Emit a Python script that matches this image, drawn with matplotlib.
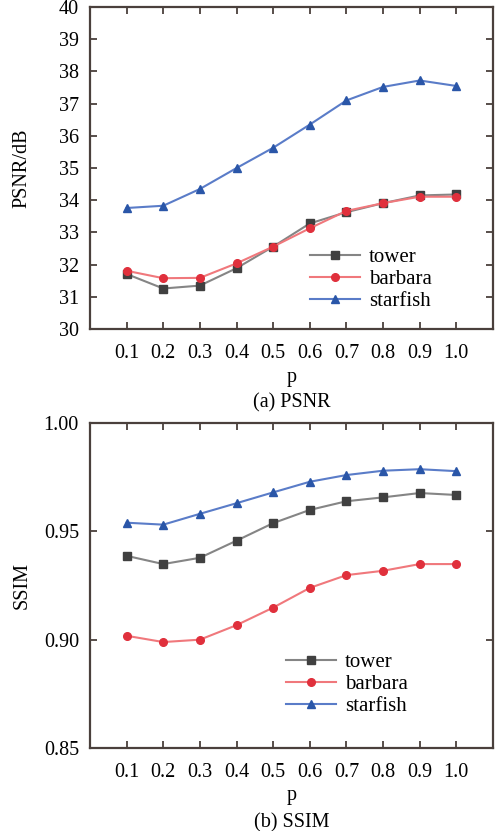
import numpy as np
import matplotlib.pyplot as plt

plt.rcParams['font.family'] = ['Liberation Serif', 'DejaVu Serif']

# sampling ratio p
p_values = [0.1, 0.2, 0.3, 0.4, 0.5, 0.6, 0.7, 0.8, 0.9, 1.0]
p_labels = ['0.1', '0.2', '0.3', '0.4', '0.5', '0.6', '0.7', '0.8', '0.9', '1.0']

# PSNR (dB) per test image
psnr_tower = [31.71, 31.26, 31.35, 31.89, 32.56, 33.28, 33.63, 33.91, 34.15, 34.18]
psnr_barbara = [31.81, 31.58, 31.59, 32.04, 32.56, 33.13, 33.67, 33.91, 34.11, 34.11]
psnr_starfish = [33.76, 33.83, 34.35, 35.00, 35.63, 36.35, 37.10, 37.52, 37.72, 37.55]

# SSIM per test image
ssim_tower = [0.9387, 0.9349, 0.9378, 0.9457, 0.9538, 0.9599, 0.9639, 0.9657, 0.9677, 0.9668]
ssim_barbara = [0.9018, 0.8989, 0.9000, 0.9067, 0.9148, 0.9239, 0.9298, 0.9318, 0.9349, 0.9349]
ssim_starfish = [0.9540, 0.9531, 0.9581, 0.9630, 0.9680, 0.9729, 0.9760, 0.9780, 0.9787, 0.9778]

names = ['tower', 'barbara', 'starfish']
line_colors = ['#858585', '#f0787c', '#5a7cc8']
marker_colors = ['#404040', '#e0303c', '#2a56a8']
markers = ['s', 'o', '^']


def draw_panel(ax, series, ylim, yticks, ytick_labels, ylabel, caption, legend_pos):
    for vals, name, lc, mc, mk in zip(series, names, line_colors, marker_colors, markers):
        ax.plot(p_values, vals, color=lc, linewidth=1.5, marker=mk, markersize=5.5,
                markerfacecolor=mc, markeredgecolor=mc, label=name)
    ax.set_xlim(0, 1.1)
    ax.set_ylim(*ylim)
    ax.set_xticks(p_values)
    ax.set_xticklabels(p_labels)
    ax.set_yticks(yticks)
    ax.set_yticklabels(ytick_labels)
    ax.tick_params(direction='in', top=True, right=True, length=5, width=1.3,
                   color='#4a403c', labelsize=14.5)
    ax.tick_params(axis='x', pad=11)
    ax.tick_params(axis='y', pad=8)
    for s in ax.spines.values():
        s.set_color('#4a403c')
        s.set_linewidth(1.6)
    ax.set_ylabel(ylabel, fontsize=14.5)
    ax.yaxis.set_label_coords(-0.145, 0.5)
    ax.set_xlabel('p', fontsize=14.5, labelpad=3)
    ax.text(0.5, -0.23, caption, transform=ax.transAxes, ha='center', va='center', fontsize=14.5)
    ax.legend(loc='upper left', bbox_to_anchor=legend_pos, frameon=False, fontsize=15,
              handlelength=2.4, handletextpad=0.45, labelspacing=0.12, borderaxespad=0)


fig = plt.figure(figsize=(4.95, 8.31), dpi=100)

ax1 = fig.add_axes([0.1818, 0.604, 0.814, 0.3875])
draw_panel(ax1, [psnr_tower, psnr_barbara, psnr_starfish], (30, 40),
           np.arange(30, 41, 1), [str(v) for v in range(30, 41)],
           'PSNR/dB', '(a) PSNR', (0.525, 0.28))

ax2 = fig.add_axes([0.1818, 0.0999, 0.814, 0.391])
draw_panel(ax2, [ssim_tower, ssim_barbara, ssim_starfish], (0.85, 1.0),
           [0.85, 0.90, 0.95, 1.00], ['0.85', '0.90', '0.95', '1.00'],
           'SSIM', '(b) SSIM', (0.465, 0.32))

fig.savefig('out.png', dpi=100)
